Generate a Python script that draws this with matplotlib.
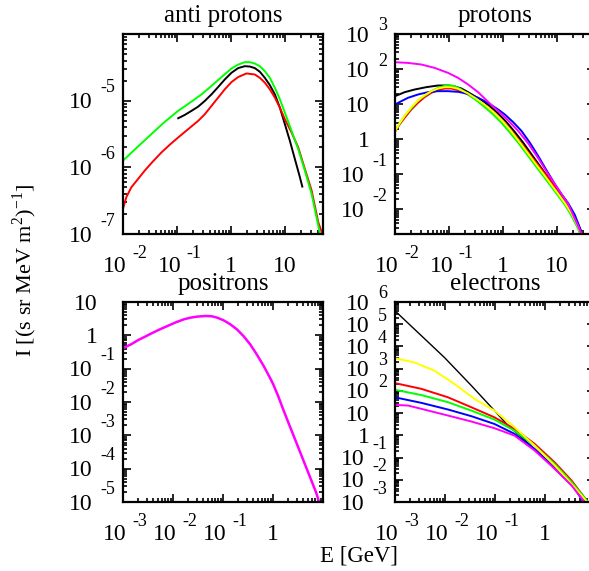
import matplotlib
matplotlib.use("Agg")
import matplotlib.pyplot as plt
import matplotlib.transforms as mtransforms
from matplotlib.ticker import LogLocator, NullFormatter

plt.rcParams['font.family'] = ['Liberation Serif', 'DejaVu Serif']
plt.rcParams['mathtext.fontset'] = 'custom'
plt.rcParams['mathtext.rm'] = 'Liberation Serif'

# ---- anti protons ----
pbar_black_E = [0.105, 0.1387, 0.184, 0.245, 0.325, 0.432, 0.574, 0.763, 1.014, 1.349, 1.79, 2.22,
                2.74, 3.40, 4.20, 5.20, 6.44, 7.96, 9.86, 12.2, 15.1, 18.7, 20.7]
pbar_black_I = [5.45e-6, 6.11e-6, 7.02e-6, 8.13e-6, 9.89e-6, 1.24e-5, 1.60e-5, 2.08e-5, 2.62e-5, 3.08e-5,
                3.29e-5, 3.25e-5, 3.08e-5, 2.71e-5, 2.20e-5, 1.71e-5, 1.24e-5, 7.87e-6, 4.44e-6, 2.50e-6,
                1.33e-6, 7.10e-7, 5.14e-7]
pbar_red_E = [0.01, 0.01153, 0.01426, 0.019, 0.0252, 0.0359, 0.0513, 0.0731, 0.1045, 0.160, 0.245, 0.325,
              0.432, 0.574, 0.763, 1.014, 1.349, 1.92, 2.74, 3.40, 4.20, 5.20, 6.44, 7.96, 9.86, 13.1,
              17.4, 23.1, 30.8, 40.8, 48.4]
pbar_red_I = [2.39e-7, 3.57e-7, 5.02e-7, 6.70e-7, 8.92e-7, 1.23e-6, 1.67e-6, 2.18e-6, 2.80e-6, 3.73e-6,
              4.97e-6, 6.25e-6, 8.32e-6, 1.11e-5, 1.48e-5, 1.90e-5, 2.26e-5, 2.56e-5, 2.47e-5, 2.20e-5,
              1.86e-5, 1.48e-5, 1.11e-5, 7.87e-6, 5.26e-6, 3.33e-6, 1.99e-6, 9.44e-7, 4.49e-7, 1.51e-7,
              1.01e-7]
pbar_green_E = [0.01, 0.019, 0.0335, 0.0591, 0.1045, 0.184, 0.282, 0.432, 0.662, 1.014, 1.349, 1.79,
                2.22, 2.74, 3.40, 4.20, 5.20, 6.44, 7.96, 9.86, 13.1, 17.4, 23.1, 30.8, 43.9]
pbar_green_I = [1.26e-6, 2.06e-6, 3.15e-6, 4.81e-6, 7.02e-6, 9.66e-6, 1.24e-5, 1.66e-5, 2.26e-5, 3.04e-5,
                3.48e-5, 3.78e-5, 3.78e-5, 3.61e-5, 3.29e-5, 2.77e-5, 2.20e-5, 1.56e-5, 1.05e-5, 6.62e-6,
                3.52e-6, 1.88e-6, 8.92e-7, 4.0e-7, 1.01e-7]

# ---- protons ----
p_black_E = [0.01, 0.0151, 0.0231, 0.038, 0.0625, 0.0958, 0.127, 0.169, 0.225, 0.299, 0.397, 0.566,
             0.807, 1.153, 1.645, 2.35, 3.35, 4.77, 6.81, 9.72, 13.9, 19.8]
p_black_I = [16.9, 22.0, 26.2, 30.6, 34.1, 34.1, 31.9, 28.0, 22.0, 16.9, 13.1, 8.81, 5.46, 3.09, 1.61,
             0.80, 0.373, 0.174, 0.0811, 0.0378, 0.0197, 0.00737]
p_red_E = [0.01, 0.0122, 0.0151, 0.0201, 0.0267, 0.0354, 0.0471, 0.0625, 0.0832, 0.110, 0.147, 0.225,
           0.321, 0.457, 0.653, 0.931, 1.328, 1.90, 2.70, 3.86, 5.51, 7.85, 10.4, 13.9, 18.4, 24.5, 28.2]
p_red_I = [1.64, 2.66, 4.11, 7.08, 11.0, 15.9, 21.1, 25.1, 28.0, 28.0, 25.1, 18.9, 13.6, 9.40, 6.08,
           3.68, 2.00, 0.995, 0.495, 0.241, 0.120, 0.0585, 0.0325, 0.0176, 0.00917, 0.00383, 0.00222]
p_green_E = [0.01, 0.0151, 0.0267, 0.0471, 0.0625, 0.0832, 0.103, 0.127, 0.169, 0.225, 0.321, 0.457,
             0.653, 0.931, 1.328, 1.90, 2.70, 3.86, 5.51, 7.85, 10.4, 13.9, 18.4, 24.5, 26.3]
p_green_I = [1.72, 4.68, 12.8, 23.5, 29.3, 33.3, 34.8, 32.6, 26.2, 18.9, 12.8, 8.26, 5.10, 2.96, 1.57,
             0.80, 0.390, 0.186, 0.0904, 0.0441, 0.0245, 0.0136, 0.00661, 0.00276, 0.0020]
p_blue_E = [0.01, 0.0131, 0.0174, 0.0267, 0.0408, 0.0625, 0.0958, 0.147, 0.225, 0.344, 0.457, 0.608,
            0.807, 1.074, 1.53, 2.19, 3.12, 4.45, 6.34, 9.06, 12.0, 16.0, 21.2, 27.4]
p_blue_I = [9.82, 12.2, 15.2, 18.9, 22.0, 23.5, 23.5, 22.5, 19.7, 15.2, 12.2, 9.40, 7.08, 5.10, 3.09,
            1.72, 0.80, 0.335, 0.131, 0.0525, 0.0273, 0.0150, 0.0070, 0.0025]
p_yellow_E = [0.01, 0.0122, 0.0151, 0.0201, 0.0267, 0.0354, 0.0471, 0.0625, 0.0832, 0.110, 0.147, 0.225,
              0.321, 0.457, 0.653, 0.931, 1.328, 1.90, 2.70, 3.86, 5.51, 7.85, 10.4, 13.9, 18.4, 24.5, 27.4]
p_yellow_I = [1.72, 2.90, 4.68, 8.26, 12.8, 18.1, 23.5, 28.0, 30.6, 30.6, 27.4, 20.2, 14.2, 9.61, 6.08,
              3.60, 1.91, 0.933, 0.454, 0.216, 0.105, 0.0502, 0.0279, 0.0151, 0.00769, 0.00322, 0.0020]
p_magenta_E = [0.01, 0.0174, 0.0308, 0.0543, 0.0958, 0.147, 0.225, 0.344, 0.527, 0.807, 1.238, 1.90,
               2.90, 4.45, 6.81, 9.06, 12.0, 16.0, 20.0, 24.5, 28.2, 32.5]
p_magenta_I = [157, 150, 135, 108, 78.0, 56.2, 36.4, 22.0, 11.7, 6.35, 3.45, 1.72, 0.766, 0.29, 0.101,
               0.0525, 0.0275, 0.0142, 0.0066, 0.0033, 0.0019, 0.0012]

# ---- positrons ----
pos_E = [0.001, 0.00146, 0.00198, 0.00269, 0.00364, 0.00532, 0.00778, 0.0114, 0.0166, 0.0225, 0.0305,
         0.0447, 0.0605, 0.076, 0.103, 0.140, 0.189, 0.256, 0.348, 0.471, 0.638, 0.865, 1.007, 1.265,
         1.59, 2.15, 2.92, 3.95, 5.36, 7.26, 8.20, 9.0]
pos_I = [0.410, 0.541, 0.711, 0.895, 1.127, 1.485, 1.91, 2.46, 3.03, 3.40, 3.64, 3.81, 3.72, 3.40, 2.82,
         2.14, 1.52, 0.959, 0.541, 0.271, 0.127, 0.0543, 0.0343, 0.0153, 0.00611, 0.00194, 6.14e-4,
         1.95e-4, 6.17e-5, 1.95e-5, 1.10e-5, 7e-6]

# ---- electrons ----
el_black_E = [0.001, 0.00339, 0.00977, 0.0339, 0.0977, 0.182, 0.339, 0.724, 1.55, 3.39, 6.17, 7.5]
el_black_I = [4.0e5, 3.0e4, 3.16e3, 170, 12.9, 2.75, 0.83, 0.174, 0.0316, 0.0056, 0.0012, 7e-4]
el_yellow_E = [0.001, 0.00245, 0.00617, 0.0155, 0.0389, 0.0977, 0.245, 0.617, 1.55, 3.39, 6.76, 7.5]
el_yellow_I = [2950, 1900, 813, 204, 43.7, 12.9, 2.34, 0.347, 0.0447, 0.0066, 0.00107, 8e-4]
el_red_E = [0.001, 0.00339, 0.0115, 0.0339, 0.0977, 0.245, 0.617, 1.55, 3.39, 6.76, 7.5]
el_red_I = [224, 123, 51.3, 18.2, 6.46, 1.95, 0.417, 0.0617, 0.0093, 0.0012, 8.5e-4]
el_green_E = [0.001, 0.00339, 0.0115, 0.0339, 0.0977, 0.245, 0.617, 1.55, 3.39, 7.08, 7.8]
el_green_I = [112, 64.6, 30.9, 12.9, 5.13, 1.62, 0.347, 0.0525, 0.0079, 0.00107, 8e-4]
el_blue_E = [0.001, 0.00339, 0.0115, 0.0339, 0.0977, 0.245, 0.617, 1.55, 3.39, 5.75, 6.5]
el_blue_I = [51.3, 28.8, 14.5, 7.24, 3.24, 1.17, 0.245, 0.0372, 0.0066, 0.00107, 7e-4]
el_magenta_E = [0.001, 0.00182, 0.00339, 0.0115, 0.0339, 0.0977, 0.245, 0.617, 1.55, 3.39, 6.03, 6.8]
el_magenta_I = [23.4, 21.9, 15.5, 7.76, 4.17, 2.09, 0.977, 0.209, 0.0316, 0.0056, 0.00107, 7e-4]

# decades that carry a tick label
pbar_xexp, pbar_yexp = [-2, -1, 0, 1], [-7, -6, -5]
p_xexp, p_yexp = [-2, -1, 0, 1], [3, 2, 1, 0, -1, -2]
pos_xexp, pos_yexp = [-3, -2, -1, 0], [1, 0, -1, -2, -3, -4, -5]
el_xexp, el_yexp = [-3, -2, -1, 0], [6, 5, 4, 3, 2, 1, 0, -1, -2, -3]

W, H = 589, 571
fig = plt.figure(figsize=(W / 100, H / 100), dpi=100)

def make_ax(left, top, xlim, ylim):
    ax = fig.add_axes([left / W, (H - top - 200) / H, 200 / W, 200 / H])
    ax.set_xscale('log')
    ax.set_yscale('log')
    ax.set_xlim(*xlim)
    ax.set_ylim(*ylim)
    for a in (ax.xaxis, ax.yaxis):
        a.set_major_locator(LogLocator(base=10, numticks=20))
        a.set_minor_locator(LogLocator(base=10, subs=range(2, 10), numticks=20))
        a.set_minor_formatter(NullFormatter())
    ax.tick_params(which='both', direction='in', top=True, right=True,
                   labelbottom=False, labelleft=False, width=1.2)
    ax.tick_params(which='major', length=6)
    ax.tick_params(which='minor', length=3)
    for s in ax.spines.values():
        s.set_linewidth(1.6)
    return ax

def off(trans, dx, dy):
    return mtransforms.offset_copy(trans, fig=fig, x=dx, y=dy, units='dots')

def tick_labels(ax, xexp, yexp):
    tx = ax.get_xaxis_transform()
    ty = ax.get_yaxis_transform()
    fs, fe = 17, 13
    for e in xexp:
        v = 10.0 ** e
        if e in (0, 1):
            ax.text(v, 0, '1' if e == 0 else '10', transform=off(tx, 0, -32),
                    ha='center', va='center', fontsize=fs)
        else:
            ax.text(v, 0, '10', transform=off(tx, 4, -32), ha='right', va='center', fontsize=fs)
            ax.text(v, 0, str(e), transform=off(tx, 9, -20), ha='left', va='center', fontsize=fe)
    for e in yexp:
        v = 10.0 ** e
        if e in (0, 1):
            ax.text(0, v, '1' if e == 0 else '10', transform=off(ty, -25, -2),
                    ha='right', va='center', fontsize=fs)
        else:
            ax.text(0, v, '10', transform=off(ty, -30 if e < 0 else -25, -2),
                    ha='right', va='center', fontsize=fs)
            ax.text(0, v, str(e), transform=off(ty, -8, 13 if e < 0 else 8),
                    ha='right', va='center', fontsize=fe)

def title(ax, s):
    ax.text(0.5, 1, s, transform=off(ax.transAxes, 0, 18), ha='center', va='center', fontsize=18)

lw = 1.4

ax1 = make_ax(123, 34, (0.01, 50), (1e-7, 1e-4))
ax1.plot(pbar_black_E, pbar_black_I, color='black', lw=lw)
ax1.plot(pbar_red_E, pbar_red_I, color='#ff0000', lw=lw)
ax1.plot(pbar_green_E, pbar_green_I, color='#00ff00', lw=lw)
tick_labels(ax1, pbar_xexp, pbar_yexp)
title(ax1, 'anti protons')

ax2 = make_ax(395, 34, (0.01, 50), (2e-3, 1e3))
ax2.plot(p_black_E, p_black_I, color='black', lw=lw)
ax2.plot(p_red_E, p_red_I, color='#ff0000', lw=lw)
ax2.plot(p_green_E, p_green_I, color='#00ff00', lw=lw)
ax2.plot(p_blue_E, p_blue_I, color='#0000ff', lw=lw)
ax2.plot(p_yellow_E, p_yellow_I, color='#ffff00', lw=lw)
ax2.plot(p_magenta_E, p_magenta_I, color='#ff00ff', lw=lw)
tick_labels(ax2, p_xexp, p_yexp)
title(ax2, 'protons')

ax3 = make_ax(123, 302, (1e-3, 10), (1e-5, 10))
ax3.plot(pos_E, pos_I, color='#ff00ff', lw=lw + 0.4)
tick_labels(ax3, pos_xexp, pos_yexp)
title(ax3, 'positrons')

ax4 = make_ax(395, 302, (1e-3, 10), (1e-3, 1e6))
ax4.plot(el_black_E, el_black_I, color='black', lw=1.0)
ax4.plot(el_red_E, el_red_I, color='#ff0000', lw=lw)
ax4.plot(el_green_E, el_green_I, color='#00ff00', lw=lw)
ax4.plot(el_blue_E, el_blue_I, color='#0000ff', lw=lw)
ax4.plot(el_yellow_E, el_yellow_I, color='#ffff00', lw=lw)
ax4.plot(el_magenta_E, el_magenta_I, color='#ff00ff', lw=lw)
tick_labels(ax4, el_xexp, el_yexp)
title(ax4, 'electrons')

fig.text(359 / W, 1 - 556 / H, 'E [GeV]', ha='center', va='center', fontsize=16.5)
fig.text(25 / W, 1 - 270 / H, r'I [(s sr MeV m$^{2}$)$^{-1}$]', rotation=90,
         ha='center', va='center', fontsize=16)

fig.savefig('out.png', dpi=100)
